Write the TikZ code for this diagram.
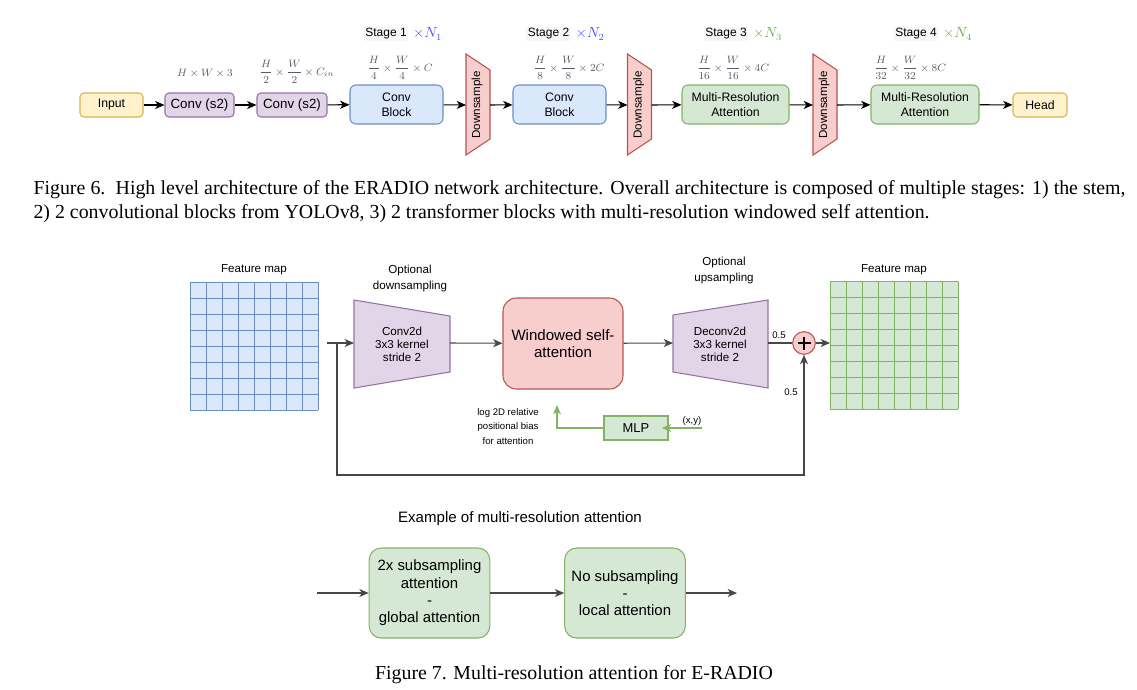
\documentclass[tikz,border=0pt]{standalone}
\usepackage{amsmath}
\usepackage{fontspec}
\setmainfont{Liberation Serif}
\setsansfont{Liberation Sans}
\usetikzlibrary{positioning}
\usetikzlibrary{arrows.meta}

\definecolor{yelfill}{HTML}{FFF2CC}
\definecolor{yelline}{HTML}{D6B656}
\definecolor{purfill}{HTML}{E1D5E7}
\definecolor{purline}{HTML}{9673A6}
\definecolor{blufill}{HTML}{DAE8FC}
\definecolor{bluline}{HTML}{6C8EBF}
\definecolor{redfill}{HTML}{F8CECC}
\definecolor{redline}{HTML}{B85450}
\definecolor{grnfill}{HTML}{D5E8D4}
\definecolor{grnline}{HTML}{82B366}
\definecolor{nblue}{HTML}{4D4DFF}
\definecolor{ngreen}{HTML}{6FA85A}
\definecolor{dimtxt}{HTML}{5A5A66}

\tikzset{
	blk/.style={draw, rounded corners=3pt, align=center, inner sep=1pt, font=\sffamily\fontsize{9.2}{11}\selectfont},
	yelblk/.style={blk, fill=yelfill, draw=yelline, minimum height=18pt},
	purblk/.style={blk, fill=purfill, draw=purline, minimum height=18pt, font=\sffamily\fontsize{10}{12}\selectfont},
	blublk/.style={blk, fill=blufill, draw=bluline, minimum width=69.75pt, minimum height=29.25pt, rounded corners=4.5pt},
	grnblk/.style={blk, fill=grnfill, draw=grnline, minimum height=29.25pt, rounded corners=4.5pt},
	dsshape/.style={fill=redfill, draw=redline},
	dslbl/.style={inner sep=0pt, font=\sffamily\fontsize{8.7}{10}\selectfont},
	stagelbl/.style={fill=black!3, inner sep=1pt, font=\sffamily\fontsize{9}{11}\selectfont},
	stagemul/.style={inner sep=0pt, font=\fontsize{10.5}{12}\selectfont},
	dimlbl/.style={text=dimtxt, inner sep=0pt, font=\fontsize{8.3}{10}\selectfont},
	lbl/.style={align=center, inner sep=0pt, font=\sffamily\fontsize{8.7}{12}\selectfont},
	tinylbl/.style={align=center, inner sep=0pt, font=\sffamily\fontsize{7.2}{10.9}\selectfont},
	link/.style={draw=black!72},
	grnlink/.style={draw=grnline},
	exblk/.style={blk, fill=grnfill, draw=grnline, minimum width=90.5pt, minimum height=67.5pt, rounded corners=9pt, font=\sffamily\fontsize{11.2}{13}\selectfont},
	captxt/.style={inner sep=0pt, font=\fontsize{14.9}{18}\selectfont}
}

\begin{document}
\begin{tikzpicture}[x=0.75pt, y=-0.75pt, line width=0.8pt, >={Stealth[length=7pt,width=6pt,inset=2pt]}]
	\useasboundingbox (0,0) rectangle (1137,689);

	\node[yelblk, minimum width=47.25pt] (input) at (111.5,105) {Input};
	\node[purblk, minimum width=51.75pt] (convA) at (199.5,105) {Conv (s2)};
	\node[purblk, minimum width=52.5pt] (convB) at (292,105) {Conv (s2)};
	\node[blublk] (cbA) at (396.5,104.5) {Conv\\Block};
	\node[blublk] (cbB) at (559.5,104.5) {Conv\\Block};
	\node[grnblk, minimum width=80.25pt] (mraA) at (735.5,104.5) {Multi-Resolution\\Attention};
	\node[grnblk, minimum width=81pt] (mraB) at (925,104.5) {Multi-Resolution\\Attention};
	\node[yelblk, minimum width=40.5pt] (head) at (1040,105) {Head};

	\foreach \x/\n in {478/1, 639.5/2, 825/3} {
		\draw[dsshape] (\x-12,54) -- (\x+12,70) -- (\x+12,139) -- (\x-12,155) -- cycle;
		\node[dslbl, rotate=90] (ds\n) at (\x-1,105) {Downsample};
		\coordinate (ds\n w) at (\x-12,105);
		\coordinate (ds\n e) at (\x+12,105);
	}

	\draw[->] (input) -- (convA);
	\draw[->] (convA) -- (convB);
	\draw[->] (convB) -- (cbA);
	\draw[->] (cbA) -- (ds1w);
	\draw[->] (ds1e) -- (cbB);
	\draw[->] (cbB) -- (ds2w);
	\draw[->] (ds2e) -- (mraA);
	\draw[->] (mraA) -- (ds3w);
	\draw[->] (ds3e) -- (mraB);
	\draw[->] (mraB) -- (head);

	\node[stagelbl] (stA) at (386,34) {Stage 1};
	\node[stagemul, text=nblue, right=3pt of stA] (mulA) {$\times N_1$};
	\node[stagelbl] (stB) at (548.5,34) {Stage 2};
	\node[stagemul, text=nblue, right=3pt of stB] (mulB) {$\times N_2$};
	\node[stagelbl] (stC) at (726,34) {Stage 3};
	\node[stagemul, text=ngreen, right=3pt of stC] (mulC) {$\times N_3$};
	\node[stagelbl] (stD) at (916,34) {Stage 4};
	\node[stagemul, text=ngreen, right=3pt of stD] (mulD) {$\times N_4$};

	\node[dimlbl] (dimA) at (205,73) {$H\times W\times 3$};
	\node[dimlbl] (dimB) at (297,72) {$\dfrac{H}{2}\times\dfrac{W}{2}\times C_{in}$};
	\node[dimlbl] (dimC) at (400,68) {$\dfrac{H}{4}\times\dfrac{W}{4}\times C$};
	\node[dimlbl] (dimD) at (569,68) {$\dfrac{H}{8}\times\dfrac{W}{8}\times 2C$};
	\node[dimlbl] (dimE) at (733,68) {$\dfrac{H}{16}\times\dfrac{W}{16}\times 4C$};
	\node[dimlbl] (dimF) at (910,68) {$\dfrac{H}{32}\times\dfrac{W}{32}\times 8C$};

	\node[captxt, anchor=north west, text width=819pt, align=justify] (capA) at (33,180) {Figure 6.\ \ High level architecture of the ERADIO network architecture. Overall architecture is composed of multiple stages: 1) the stem,\linebreak 2) 2 convolutional blocks from YOLOv8, 3) 2 transformer blocks with multi-resolution windowed self attention.};

	\fill[blufill] (190,282) rectangle (318,410);
	\fill[grnfill] (830,281) rectangle (958,409);
	\foreach \i in {0,...,8} {
		\draw[bluline, line width=0.7pt] (190+16*\i,282) -- (190+16*\i,410);
		\draw[bluline, line width=0.7pt] (190,282+16*\i) -- (318,282+16*\i);
		\draw[grnline, line width=0.7pt] (830+16*\i,281) -- (830+16*\i,409);
		\draw[grnline, line width=0.7pt] (830,281+16*\i) -- (958,281+16*\i);
	}
	\node[lbl] (fmapin) at (254,270) {Feature map};
	\node[lbl] (fmapout) at (894,270) {Feature map};

	\draw[fill=purfill, draw=purline] (354,300) -- (450,316) -- (450,372) -- (354,388) -- cycle;
	\draw[fill=purfill, draw=purline] (673,315) -- (768,300) -- (768,388) -- (673,372) -- cycle;
	\node[lbl, font=\sffamily\fontsize{8.7}{9.75}\selectfont] (conv2d) at (402,344) {Conv2d\\3x3 kernel\\stride 2};
	\node[lbl, font=\sffamily\fontsize{8.7}{9.75}\selectfont] (deconv) at (720,344) {Deconv2d\\3x3 kernel\\stride 2};
	\node[lbl] (optdown) at (410,278.5) {Optional\\downsampling};
	\node[lbl] (optup) at (724,270.5) {Optional\\upsampling};
	\coordinate (convin) at (354,343);
	\coordinate (convout) at (450,343);
	\coordinate (deconvin) at (673,343);
	\coordinate (deconvout) at (768,343);

	\node[blk, fill=redfill, draw=redline, minimum width=90pt, minimum height=68.25pt, rounded corners=10pt, font=\sffamily\fontsize{11.3}{13}\selectfont] (wsa) at (563,343.5) {Windowed self-\\attention};
	\node[circle, fill=redfill, draw=redline, minimum size=17pt, inner sep=0pt] (plus) at (804,343) {};
	\draw[line width=1.5pt] (797.5,343) -- (810.5,343);
	\draw[line width=1.5pt] (804,336.5) -- (804,349.5);

	\coordinate (fin) at (327,343);
	\coordinate (split) at (337,343);
	\coordinate (loopcorner) at (337,475);
	\coordinate (gridin) at (830,343);
	\draw[link, ->] (fin) -- (convin);
	\draw[link, ->] (split) -- (loopcorner) -| (plus.south);
	\draw[link, ->] (convout) -- (wsa);
	\draw[link, ->] (wsa) -- (deconvin);
	\draw[link] (deconvout) -- (plus);
	\draw[link, ->] (plus) -- (gridin);
	\node[tinylbl] (wtop) at (779,335) {0.5};
	\node[tinylbl] (wside) at (791,392) {0.5};

	\node[blk, fill=grnfill, draw=grnline, rounded corners=0pt, minimum width=48pt, minimum height=18pt, font=\sffamily\fontsize{9.7}{11}\selectfont] (mlp) at (636,428) {MLP};
	\coordinate (xyin) at (702,428);
	\coordinate (biastip) at (557,405);
	\draw[grnlink, ->] (xyin) -- ([xshift=-5pt]xyin -| mlp.east);
	\draw[grnlink, ->] (mlp) -| (biastip);
	\node[tinylbl] (xy) at (692,421) {(x,y)};
	\node[tinylbl] (bias) at (508,426.5) {log 2D relative\\positional bias\\for attention};

	\node[lbl, font=\sffamily\fontsize{11.3}{13}\selectfont] (extitle) at (520,519) {Example of multi-resolution attention};
	\node[exblk] (subatt) at (429.5,593) {2x subsampling\\attention\\-\\global attention};
	\node[exblk] (locatt) at (625,593) {No subsampling\\-\\local attention};
	\coordinate (exin) at (317,593);
	\coordinate (exout) at (737,593);
	\draw[link, ->] (exin) -- (subatt);
	\draw[link, ->] (subatt) -- (locatt);
	\draw[link, ->] (locatt) -- (exout);

	\node[captxt] (capB) at (574,675) {Figure 7. Multi-resolution attention for E-RADIO};
\end{tikzpicture}
\end{document}
